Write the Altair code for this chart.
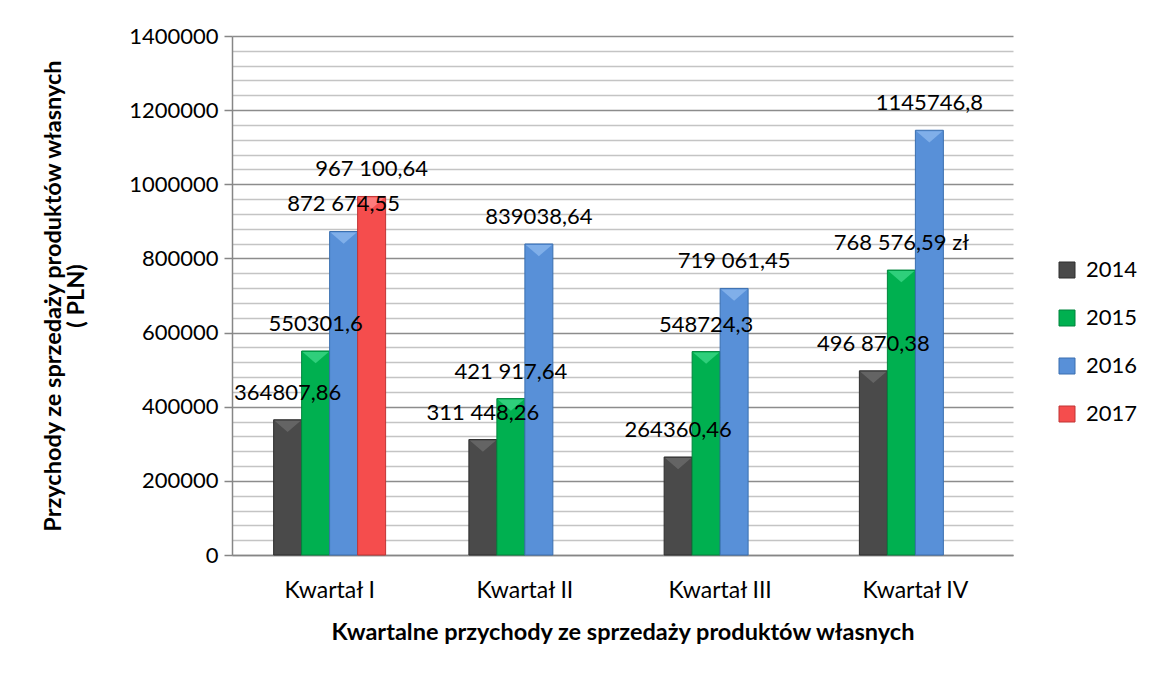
import altair as alt
import pandas as pd

quarters = ["Kwartał I", "Kwartał II", "Kwartał III", "Kwartał IV"]
years = ["2014", "2015", "2016", "2017"]
colors = ["#4a4a4a", "#00b050", "#5890d8", "#f54d4d"]
strokes = ["#2e2e2e", "#00843c", "#3a6fb0", "#c03535"]
bevels = ["#6e6e6e", "#3fd98a", "#8db9ef", "#ff8c8c"]

q_col = ["Kwartał I"] * 4 + ["Kwartał II"] * 3 + ["Kwartał III"] * 3 + ["Kwartał IV"] * 3
y_col = ["2014", "2015", "2016", "2017",
         "2014", "2015", "2016",
         "2014", "2015", "2016",
         "2014", "2015", "2016"]
values = [364807.86, 550301.6, 872674.55, 967100.64,
          311448.26, 421917.64, 839038.64,
          264360.46, 548724.3, 719061.45,
          496870.38, 768576.59, 1145746.8]
labels = ["364807,86", "550301,6", "872 674,55", "967 100,64",
          "311 448,26", "421 917,64", "839038,64",
          "264360,46", "548724,3", "719 061,45",
          "496 870,38", "768 576,59 zł", "1145746,8"]

df = pd.DataFrame({"kw": q_col, "rok": y_col, "wartosc": values, "etykieta": labels})

FONT = "Lato"

x_enc = alt.X("kw:N", sort=quarters,
              scale=alt.Scale(paddingInner=0.4264, paddingOuter=0.2132),
              axis=alt.Axis(title="Kwartalne przychody ze sprzedaży produktów własnych",
                            labelAngle=0, ticks=False, labelPadding=24, titlePadding=18,
                            labelFontSize=23,
                            domainColor="#868686", domainWidth=1.5))
xo = alt.XOffset("rok:N", sort=years, scale=alt.Scale(domain=years, paddingInner=0, paddingOuter=0))
y_enc = alt.Y("wartosc:Q",
              scale=alt.Scale(domain=[0, 1400000], nice=False),
              axis=alt.Axis(title=["Przychody ze sprzedaży produktów własnych", "( PLN)"],
                            values=list(range(0, 1400001, 40000)),
                            tickCount=100,
                            labelExpr="datum.value % 200000 === 0 ? datum.value : ''",
                            grid=True,
                            gridColor={"condition": {"test": "datum.value % 200000 === 0", "value": "#8c8c8c"}, "value": "#c4c4c4"},
                            gridWidth=1.5,
                            tickOpacity={"condition": {"test": "datum.value % 200000 === 0", "value": 1}, "value": 0},
                            tickSize=8, tickColor="#868686", tickWidth=1.5,
                            domainColor="#868686", domainWidth=1.5,
                            labelPadding=6, titlePadding=40, titleLineHeight=23))

bars = alt.Chart(df).mark_bar(strokeWidth=1).encode(
    x=x_enc, xOffset=xo, y=y_enc,
    color=alt.Color("rok:N", scale=alt.Scale(domain=years, range=colors),
                    legend=alt.Legend(title=None, orient="none", legendX=824, legendY=223,
                                      symbolType="square", symbolSize=256,
                                      symbolStrokeWidth=1, labelOffset=8, rowPadding=26)),
    stroke=alt.Stroke("rok:N", scale=alt.Scale(domain=years, range=strokes), legend=None),
)

bevel = alt.Chart(df).mark_point(shape="M-0.93,0L0.93,0L0,0.8Z", size=784, filled=True,
                                 opacity=0.75, strokeWidth=0, yOffset=1).encode(
    x=alt.X("kw:N", sort=quarters), xOffset=xo, y="wartosc:Q",
    fill=alt.Fill("rok:N", scale=alt.Scale(domain=years, range=bevels), legend=None),
)

text = alt.Chart(df).mark_text(baseline="middle", dy=-27, fontSize=22, font=FONT, color="black").encode(
    x=alt.X("kw:N", sort=quarters), xOffset=xo, y="wartosc:Q", text="etykieta:N"
)

chart = alt.layer(bars, bevel, text).properties(
    width=781, height=519,
    autosize=alt.AutoSizeParams(type="none"),
    padding={"left": 224, "top": 28, "right": 131, "bottom": 112},
    background="white",
).configure_view(stroke=None).configure_axis(
    labelFont=FONT, labelFontSize=22, labelColor="black",
    titleFont=FONT, titleFontSize=23.5, titleFontWeight="bold", titleColor="black",
).configure_legend(labelFont=FONT, labelFontSize=22, labelColor="black")

chart.save("out.html", embed_options={"renderer": "svg", "actions": False})
